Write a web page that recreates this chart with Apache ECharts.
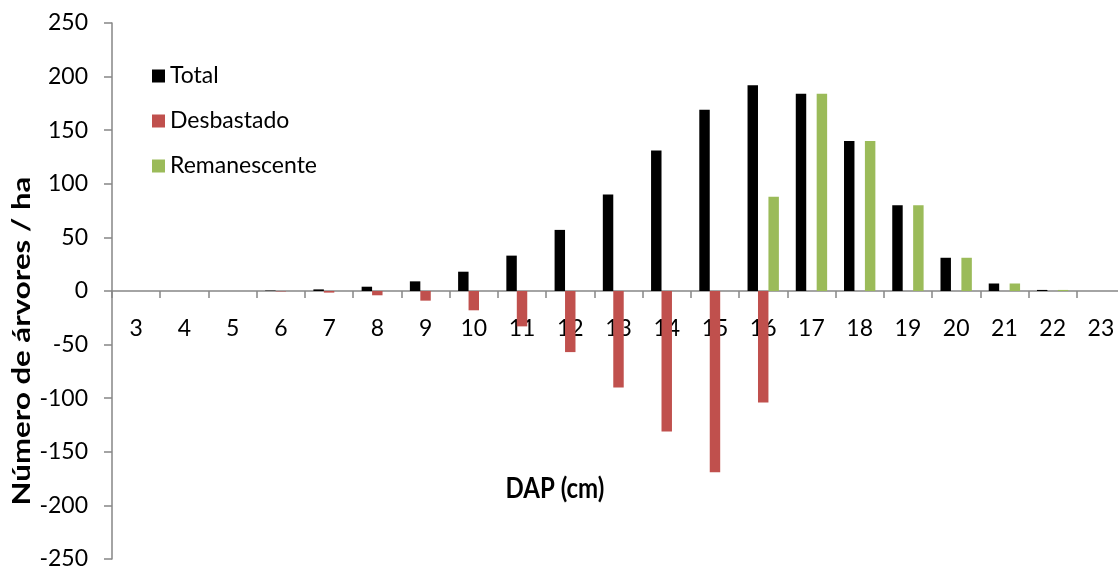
<!DOCTYPE html>
<html>
<head>
<meta charset="utf-8">
<script src="https://cdn.jsdelivr.net/npm/echarts@6/dist/echarts.min.js"></script>
<style>
  html, body { margin: 0; padding: 0; background: #ffffff; }
  #chart { width: 1118px; height: 567px; }
</style>
</head>
<body>
<div id="chart"></div>
<script>
// Diameter classes (DAP, cm)
const categories = ['3','4','5','6','7','8','9','10','11','12','13','14','15','16','17','18','19','20','21','22','23'];
// Trees per hectare in each class
const total        = [0, 0, 0, 0.4, 1.5, 4, 9, 18, 33, 57, 90, 131, 169, 192, 184, 140, 80, 31, 7, 1, 0];
const desbastado   = [0, 0, 0, -0.4, -1.5, -4, -9, -18, -33, -57, -90, -131, -169, -104, 0, 0, 0, 0, 0, 0, 0];
const remanescente = [0, 0, 0, 0, 0, 0, 0, 0, 0, 0, 0, 0, 0, 88, 184, 140, 80, 31, 7, 1, 0];
const seriesNames  = ['Total', 'Desbastado', 'Remanescente'];
const seriesColors = ['#000000', '#C0504D', '#9BBB59'];
const yTitle = 'Número de árvores / ha';
const xTitle = 'DAP (cm)';

const FONT = 'Lato, "Open Sans", sans-serif';
const AXIS_GREY = '#868686';

// Plot area; the category axis sits on the zero line, so it gets its own
// grid whose bottom edge is that line (top half of the plot area).
const PLOT_LEFT = 112, PLOT_TOP = 23, PLOT_W = 1013, PLOT_H = 536;

const chart = echarts.init(document.getElementById('chart'), null, { renderer: 'canvas' });

const seriesData = [total, desbastado, remanescente];

function legendFor(i, top) {
  return {
    data: [seriesNames[i]],
    left: 152,
    top: top,
    padding: 0,
    icon: 'rect',
    itemWidth: 13,
    itemHeight: 13,
    textStyle: { fontFamily: FONT, fontSize: 23, color: '#000', lineHeight: 24 },
    selectedMode: false
  };
}

chart.setOption({
  animation: false,
  backgroundColor: '#ffffff',
  textStyle: { fontFamily: FONT },
  legend: [legendFor(0, 64), legendFor(1, 109), legendFor(2, 154)],
  grid: [
    { left: PLOT_LEFT, top: PLOT_TOP, width: PLOT_W, height: PLOT_H, containLabel: false, outerBoundsMode: 'none' },
    { left: PLOT_LEFT, top: PLOT_TOP, width: PLOT_W, height: PLOT_H / 2, containLabel: false, outerBoundsMode: 'none' }
  ],
  xAxis: [
    {
      gridIndex: 0,
      type: 'category',
      data: categories,
      boundaryGap: true,
      axisLine: { show: false },
      axisTick: { show: false },
      axisLabel: { show: false },
      splitLine: { show: false }
    },
    {
      gridIndex: 1,
      type: 'category',
      data: categories,
      boundaryGap: true,
      position: 'bottom',
      axisLine: { onZero: false, lineStyle: { color: AXIS_GREY, width: 1.5 } },
      axisTick: { show: true, length: 7, interval: 0, lineStyle: { color: AXIS_GREY, width: 1.5 } },
      axisLabel: { interval: 0, margin: 26, fontFamily: FONT, fontSize: 23, color: '#000' },
      splitLine: { show: false }
    }
  ],
  yAxis: [
    {
      gridIndex: 0,
      type: 'value',
      min: -250,
      max: 250,
      interval: 50,
      axisLine: { show: true, lineStyle: { color: AXIS_GREY, width: 1.5 } },
      axisTick: { show: true, length: 8, lineStyle: { color: AXIS_GREY, width: 1.5 } },
      axisLabel: { margin: 24, fontFamily: FONT, fontSize: 23, color: '#000' },
      splitLine: { show: false }
    },
    {
      gridIndex: 1,
      type: 'value',
      min: 0,
      max: 1,
      show: false
    }
  ],
  graphic: [
    {
      type: 'text',
      x: 22,
      y: 341,
      rotation: Math.PI / 2,
      scaleX: 1.3,
      style: {
        text: yTitle,
        fontFamily: FONT,
        fontSize: 24,
        fontWeight: 'bold',
        fill: '#000',
        align: 'center',
        verticalAlign: 'middle'
      }
    },
    {
      type: 'text',
      x: 555,
      y: 489,
      scaleY: 1.15,
      style: {
        text: xTitle,
        fontFamily: FONT,
        fontSize: 24,
        fontWeight: 'bold',
        fill: '#000',
        align: 'center',
        verticalAlign: 'middle'
      }
    }
  ],
  series: seriesNames.map((name, i) => ({
    name: name,
    type: 'bar',
    xAxisIndex: 0,
    yAxisIndex: 0,
    data: seriesData[i],
    barGap: '0%',
    barCategoryGap: '35%',
    itemStyle: { color: seriesColors[i] }
  }))
});
</script>
</body>
</html>
